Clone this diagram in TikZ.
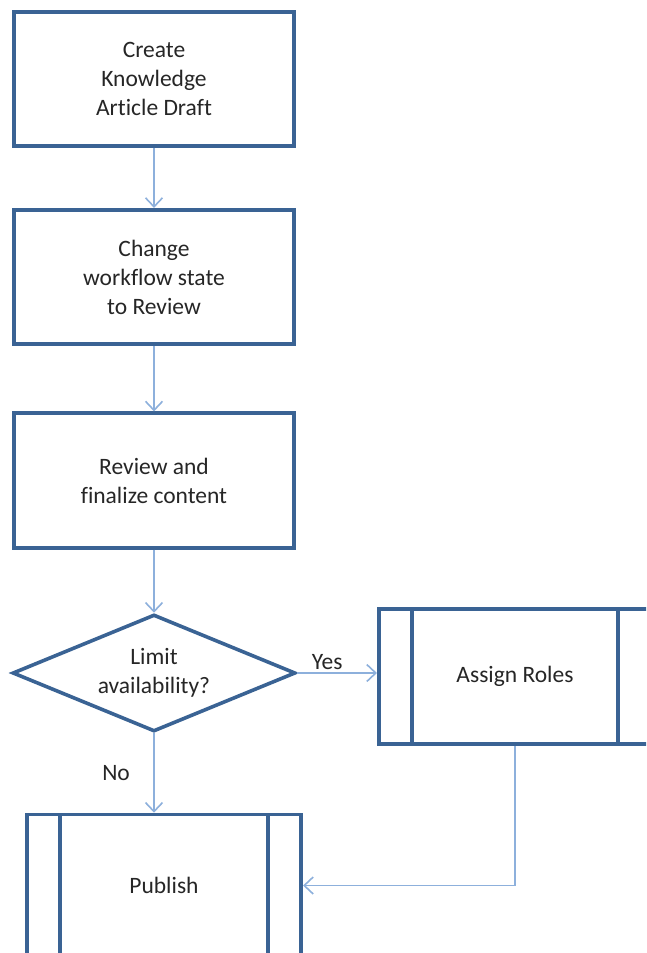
\documentclass[tikz,border=0pt]{standalone}
\usepackage{fontspec}
\setmainfont{Carlito}[Ligatures=CommonOff]
\usepackage{xcolor}
\usepackage{tikz}
\usetikzlibrary{arrows.meta,calc,positioning,shapes.geometric}
\definecolor{boxblue}{HTML}{3A6394}
\definecolor{linkblue}{HTML}{8DB0DC}
\definecolor{txtgray}{HTML}{262626}
\begin{document}
\begin{tikzpicture}[x=1pt,y=-1pt,>={Straight Barb[length=9pt,width=17pt]},
  every node/.style={font=\fontsize{23.5}{29}\selectfont,text=txtgray,align=center},
  stepbox/.style={draw=boxblue,line width=3.6pt,fill=white,minimum width=279.5pt,minimum height=134.5pt,inner sep=0pt},
  decision/.style={draw=boxblue,line width=3.6pt,fill=white,diamond,aspect=2.4,minimum width=283pt,minimum height=117pt,inner sep=0pt},
  subproc/.style={stepbox,minimum width=272.5pt,minimum height=135.5pt,
    path picture={\draw[boxblue,line width=3.6pt]
      ([xshift=33pt]path picture bounding box.north west) -- ([xshift=33pt]path picture bounding box.south west)
      ([xshift=-33pt]path picture bounding box.north east) -- ([xshift=-33pt]path picture bounding box.south east);}},
  link/.style={->,draw=linkblue,line width=1.6pt}]
  \clip (0,0) rectangle (646,953);
  \node[stepbox] (draft) at (154,79) {Create\\Knowledge\\Article Draft};
  \node[stepbox] (state) at (154,277) {Change\\workflow state\\to Review};
  \node[stepbox] (review) at (154,480.5) {Review and\\finalize content};
  \node[decision] (limit) at (154,673) {Limit\\availability?};
  \node[subproc] (roles) at (515,676.5) {Assign Roles};
  \node[subproc,minimum width=274.5pt,minimum height=142pt] (publish) at (164,885.5) {Publish};
  \draw[link] (draft) -- (state);
  \draw[link] (state) -- (review);
  \draw[link] (review) -- (limit);
  \draw[link] (limit.east) -- node[above=-1pt,xshift=-10pt] {Yes} (limit.east -| roles.west);
  \draw[link] (limit.south) -- node[left=20pt] {No} (limit.south |- publish.north);
  \draw[link] (roles.south) |- (publish.east);
\end{tikzpicture}
\end{document}
